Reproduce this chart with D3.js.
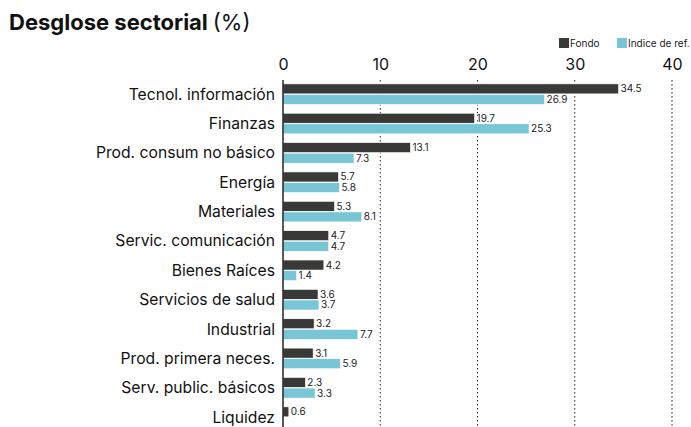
<!DOCTYPE html>
<html><head><meta charset="utf-8">
<script src="https://cdn.jsdelivr.net/npm/d3@7"></script>
<style>body{margin:0;background:#fff}svg{display:block;font-family:Inter,"Noto Sans",sans-serif}</style>
</head><body>
<svg id="c" width="691" height="427"></svg>
<script>
const categories = ["Tecnol. información","Finanzas","Prod. consum no básico","Energía","Materiales","Servic. comunicación","Bienes Raíces","Servicios de salud","Industrial","Prod. primera neces.","Serv. public. básicos","Liquidez"];
const fondo = [34.5,19.7,13.1,5.7,5.3,4.7,4.2,3.6,3.2,3.1,2.3,0.6];
const indice = [26.9,25.3,7.3,5.8,8.1,4.7,1.4,3.7,7.7,5.9,3.3,null];
const ticks = [0,10,20,30,40];
const seriesNames = ["Fondo","Indice de ref."];
const colors = ["#393937","#78c6d5"];

const svg = d3.select("#c");
const x = d3.scaleLinear().domain([0,40]).range([283,672]);
const y = d3.scaleBand().domain(categories).range([79.5,431.8]);

const t = svg.append("text").attr("x",9).attr("y",30).attr("font-size",22).attr("fill","#111");
t.append("tspan").attr("font-weight",700).text("Desglose sectorial");
t.append("tspan").attr("font-weight",400).attr("dx",5).text("(%)");

// grid
svg.append("g").selectAll("line").data(ticks.slice(1)).join("line")
  .attr("x1",d=>x(d)).attr("x2",d=>x(d)).attr("y1",80).attr("y2",427)
  .attr("stroke","#222").attr("stroke-width",1).attr("stroke-dasharray","1.5,2.5");

// tick labels via axis
const ax = svg.append("g").attr("transform","translate(0,70)")
  .call(d3.axisTop(x).tickValues(ticks).tickSize(0).tickPadding(0));
ax.select(".domain").remove();
ax.selectAll("text").attr("font-size",16).attr("fill","#111").attr("font-family","Inter,'Noto Sans',sans-serif");

const bh = 10;
const rows = categories.map((c,i)=>({c,f:fondo[i],r:indice[i]}));
const g = svg.append("g");
rows.forEach(d=>{
  const yc = y(d.c)+y.bandwidth()/2;
  const items = [{v:d.f,y0:yc-bh-0.3,col:colors[0]},{v:d.r,y0:yc+0.3,col:colors[1]}];
  items.forEach(it=>{
    if(it.v==null) return;
    g.append("rect").attr("x",x(0)).attr("y",it.y0).attr("width",x(it.v)-x(0)).attr("height",bh)
      .attr("fill",it.col).attr("stroke","#fff").attr("stroke-width",0.6);
    g.append("text").attr("x",x(it.v)+2).attr("y",it.y0+bh/2).attr("dy","0.35em")
      .attr("font-size",10).attr("fill","#222").attr("stroke","#fff").attr("stroke-width",2)
      .attr("paint-order","stroke").text(it.v.toFixed(1));
  });
});

// category labels
svg.append("g").selectAll("text").data(categories).join("text")
  .attr("x",275).attr("y",d=>y(d)+y.bandwidth()/2).attr("dy","0.35em")
  .attr("text-anchor","end").attr("font-size",15.7).attr("fill","#111").text(d=>d);

// axis line
svg.append("line").attr("x1",x(0)).attr("x2",x(0)).attr("y1",80).attr("y2",427)
  .attr("stroke","#222").attr("stroke-width",1.5);

// legend
const lg = svg.append("g");
const lx = [559,617];
seriesNames.forEach((n,i)=>{
  lg.append("rect").attr("x",lx[i]).attr("y",38).attr("width",10).attr("height",10).attr("fill",colors[i]);
  lg.append("text").attr("x",lx[i]+11).attr("y",43).attr("dy","0.35em").attr("font-size",10).attr("fill","#222").text(n);
});
</script>
</body></html>
